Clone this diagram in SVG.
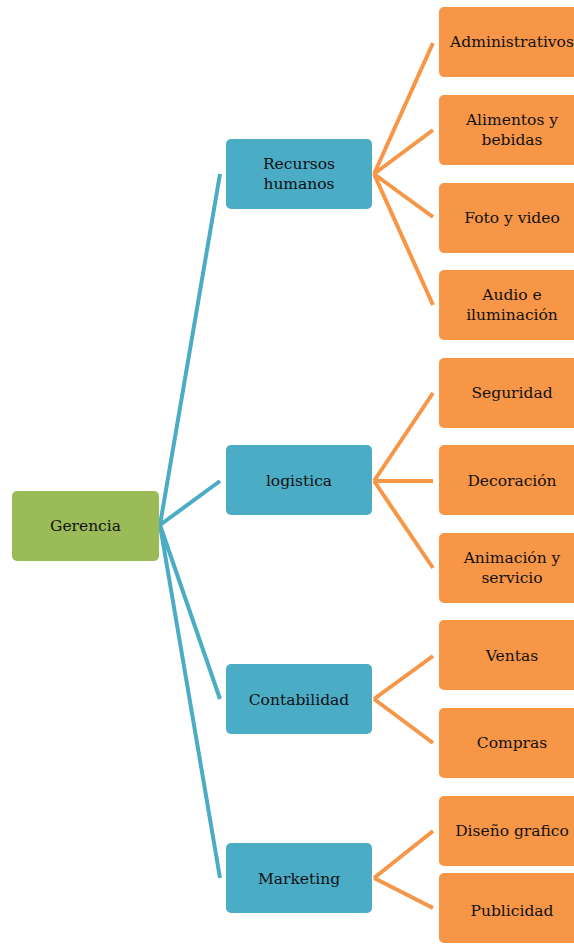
<svg xmlns="http://www.w3.org/2000/svg" width="574" height="947" viewBox="0 0 574 947">
<style>
.g{fill:#9BBB59}
.b{fill:#4BACC6}
.o{fill:#F79646}
text{font-family:"DejaVu Serif","Liberation Serif",serif;font-size:15.5px;fill:#111;text-anchor:middle}
.cb{stroke:#4BACC6;stroke-width:4;fill:none}
.co{stroke:#F79646;stroke-width:4;fill:none}
</style>
<rect width="574" height="947" fill="#fff"/>
<g id="connectors">
<path class="cb" d="M160,525 L220,174 M160,525 L220,481 M160,525 L220,699 M160,525 L220,878"/>
<path class="co" d="M374,174 L433,43 M374,174 L433,130 M374,174 L433,217 M374,174 L433,305"/>
<path class="co" d="M374,481 L433,393 M374,481 L433,481 M374,481 L433,568"/>
<path class="co" d="M374,699 L433,656 M374,699 L433,743"/>
<path class="co" d="M374,878 L433,831 M374,878 L433,908"/>
</g>
<g id="gerencia"><rect class="g" x="12" y="491" width="147" height="70" rx="5"/><text x="85.5" y="531">Gerencia</text></g>
<g id="recursos"><rect class="b" x="226" y="139" width="146" height="70" rx="5"/><text x="299" y="169">Recursos</text><text x="299" y="189">humanos</text></g>
<g id="logistica"><rect class="b" x="226" y="445" width="146" height="70" rx="5"/><text x="299" y="486">logistica</text></g>
<g id="contabilidad"><rect class="b" x="226" y="664" width="146" height="70" rx="5"/><text x="299" y="705">Contabilidad</text></g>
<g id="marketing"><rect class="b" x="226" y="843" width="146" height="70" rx="5"/><text x="299" y="884">Marketing</text></g>
<g id="administrativos"><rect class="o" x="439" y="7" width="146" height="70" rx="5"/><text x="512" y="47">Administrativos</text></g>
<g id="alimentos"><rect class="o" x="439" y="95" width="146" height="70" rx="5"/><text x="512" y="125">Alimentos y</text><text x="512" y="145">bebidas</text></g>
<g id="foto"><rect class="o" x="439" y="183" width="146" height="70" rx="5"/><text x="512" y="223">Foto y video</text></g>
<g id="audio"><rect class="o" x="439" y="270" width="146" height="70" rx="5"/><text x="512" y="300">Audio e</text><text x="512" y="320">iluminación</text></g>
<g id="seguridad"><rect class="o" x="439" y="358" width="146" height="70" rx="5"/><text x="512" y="398">Seguridad</text></g>
<g id="decoracion"><rect class="o" x="439" y="445" width="146" height="70" rx="5"/><text x="512" y="486">Decoración</text></g>
<g id="animacion"><rect class="o" x="439" y="533" width="146" height="70" rx="5"/><text x="512" y="563">Animación y</text><text x="512" y="583">servicio</text></g>
<g id="ventas"><rect class="o" x="439" y="620" width="146" height="70" rx="5"/><text x="512" y="661">Ventas</text></g>
<g id="compras"><rect class="o" x="439" y="708" width="146" height="70" rx="5"/><text x="512" y="748">Compras</text></g>
<g id="diseno"><rect class="o" x="439" y="796" width="146" height="70" rx="5"/><text x="512" y="836">Diseño grafico</text></g>
<g id="publicidad"><rect class="o" x="439" y="873" width="146" height="70" rx="5"/><text x="512" y="916">Publicidad</text></g>
</svg>
